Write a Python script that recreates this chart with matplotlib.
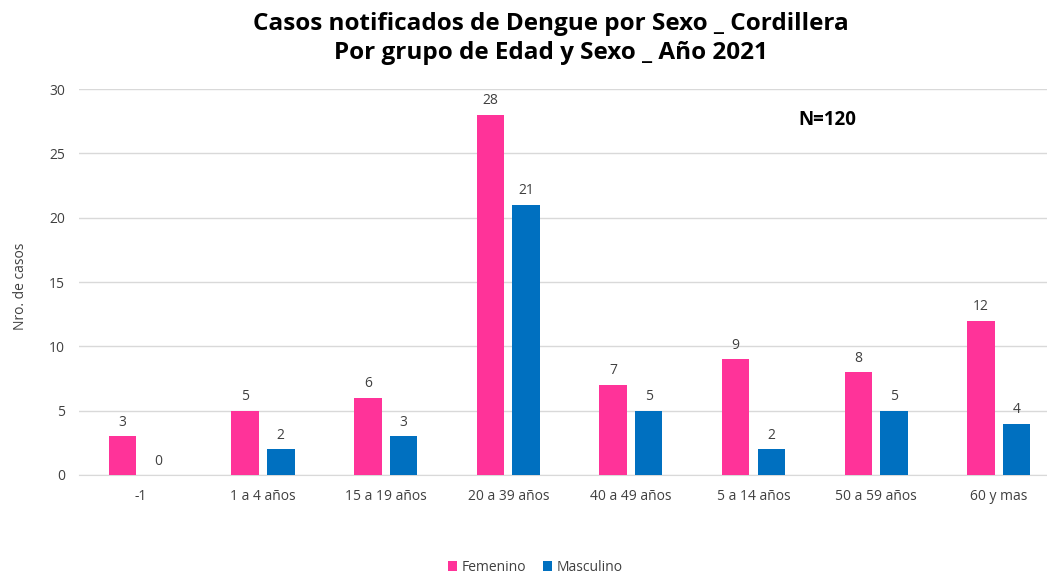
import matplotlib
matplotlib.use("Agg")
import matplotlib.pyplot as plt
import numpy as np

categories = ["-1", "1 a 4 años", "15 a 19 años", "20 a 39 años", "40 a 49 años",
              "5 a 14 años", "50 a 59 años", "60 y mas"]
femenino = [3, 5, 6, 28, 7, 9, 8, 12]
masculino = [0, 2, 3, 21, 5, 2, 5, 4]
yticks = [0, 5, 10, 15, 20, 25, 30]

plt.rcParams['font.family'] = ['Open Sans', 'DejaVu Sans']

fig = plt.figure(figsize=(10.47, 5.75), dpi=100)
ax = fig.add_axes([0.0755, 0.174, 0.937, 0.671])

x = np.arange(len(categories))
w = 0.224
off = 0.145
c_f = "#FF3399"
c_m = "#0070C0"
bf = ax.bar(x - off, femenino, w, color=c_f, label="Femenino", zorder=3)
bm = ax.bar(x + off, masculino, w, color=c_m, label="Masculino", zorder=3)

for xi, v in zip(x - off, femenino):
    ax.text(xi, v + 0.5, str(v), ha="center", va="bottom", fontsize=10, color="#404040")
for xi, v in zip(x + off, masculino):
    ax.text(xi, v + 0.5, str(v), ha="center", va="bottom", fontsize=10, color="#404040")

ax.set_xlim(-0.5, len(categories) - 0.5)
ax.set_ylim(0, 30)
ax.set_yticks(yticks)
ax.set_xticks(x)
ax.set_xticklabels(categories)
ax.tick_params(axis="both", length=0, labelsize=10, colors="#404040")
ax.tick_params(axis="x", pad=10)
ax.tick_params(axis="y", pad=10)
ax.grid(axis="y", color="#D9D9D9", linewidth=1, zorder=0)
for s in ["top", "right", "left"]:
    ax.spines[s].set_visible(False)
ax.spines["bottom"].set_color("#D9D9D9")
ax.set_ylabel("Nro. de casos", fontsize=10, color="#404040")
ax.yaxis.set_label_coords(-0.052, 0.49)

ax.text(5.6, 27.6, "N=120", fontsize=13.5, fontweight="bold", ha="center", va="center", color="black")

fig.text(0.526, 0.933, "Casos notificados de Dengue por Sexo _ Cordillera\nPor grupo de Edad y Sexo _ Año 2021",
         ha="center", va="center", fontsize=17.5, fontweight="bold", linespacing=1.28)

fig.legend(handles=[bf, bm], labels=["Femenino", "Masculino"], loc="center",
           bbox_to_anchor=(0.511, 0.013), ncol=2, frameon=False, fontsize=10,
           handlelength=0.7, handleheight=0.7, handletextpad=0.3, columnspacing=1.2,
           labelcolor="#404040")

fig.savefig("out.png", dpi=100)
